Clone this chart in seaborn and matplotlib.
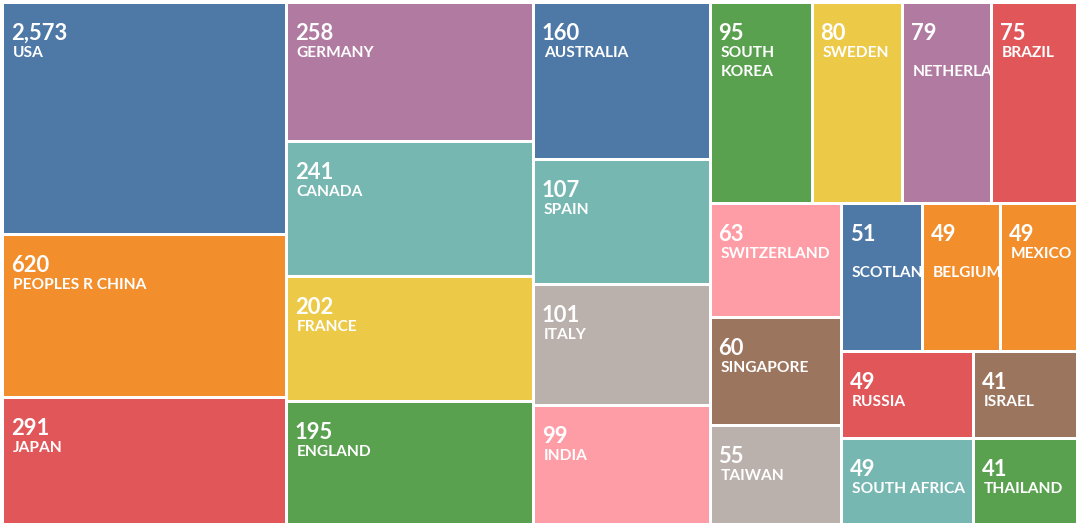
import numpy as np
import matplotlib
matplotlib.use("Agg")
import matplotlib.pyplot as plt
import seaborn as sns
from matplotlib.patches import Rectangle

# ---------------- data ----------------
countries = ["USA", "PEOPLES R CHINA", "JAPAN", "GERMANY", "CANADA", "FRANCE",
             "ENGLAND", "AUSTRALIA", "SPAIN", "ITALY", "INDIA", "SOUTH KOREA",
             "SWEDEN", "NETHERLANDS", "BRAZIL", "SWITZERLAND", "SINGAPORE",
             "TAIWAN", "SCOTLAND", "BELGIUM", "MEXICO", "RUSSIA",
             "SOUTH AFRICA", "ISRAEL", "THAILAND"]
counts = [2573, 620, 291, 258, 241, 202, 195, 160, 107, 101, 99, 95, 80, 79,
          75, 63, 60, 55, 51, 49, 49, 49, 49, 41, 41]

# how the (wrapped) names appear inside the tiles
name_text = {"SOUTH KOREA": "SOUTH\nKOREA", "NETHERLANDS": "\nNETHERLANDS",
             "SCOTLAND": "\nSCOTLAND", "BELGIUM": "\nBELGIUM"}

# ---------------- style ----------------
T_BLUE, T_ORANGE, T_RED, T_TEAL, T_GREEN = "#4e79a7", "#f28e2b", "#e15759", "#76b7b2", "#59a14f"
T_YELLOW, T_PURPLE, T_PINK, T_BROWN, T_GRAY = "#edc948", "#b07aa1", "#ff9da7", "#9c755f", "#bab0ac"
tile_colors = [T_BLUE, T_ORANGE, T_RED, T_PURPLE, T_TEAL, T_YELLOW, T_GREEN,
               T_BLUE, T_TEAL, T_GRAY, T_PINK, T_GREEN, T_YELLOW, T_PURPLE,
               T_RED, T_PINK, T_BROWN, T_GRAY, T_BLUE, T_ORANGE, T_ORANGE,
               T_RED, T_TEAL, T_BROWN, T_GREEN]
palette = sns.color_palette(tile_colors)

# squarified layout: tile area on a log scale, rows broken as in the reference
LOG_FLOOR = 3.06
row_sizes = [3, 4, 4, 4, 3, 3, 2, 1, 1]
GAP = 3.0

sns.set_theme(style="white")
plt.rcParams["font.family"] = ["Lato", "DejaVu Sans"]

W, H = 1080, 527
fig = plt.figure(figsize=(W / 100, H / 100), dpi=100)
ax = fig.add_axes([0, 0, 1, 1])
ax.set_xlim(0, W)
ax.set_ylim(H, 0)
ax.axis("off")

weights = np.log(np.asarray(counts, dtype=float)) - LOG_FLOOR
cx, cy, cw, ch = 2.5, 2.5, W - 5.0, H - 5.0
areas = weights / weights.sum() * cw * ch

cells = []
i = 0
for k, n in enumerate(row_sizes):
    row = areas[i:i + n]
    s = row.sum()
    last = k == len(row_sizes) - 1
    if cw >= ch:      # column along the left side
        w = cw if last else s / ch
        yy = cy
        for a in row:
            h = a / s * ch
            cells.append((cx, yy, w, h))
            yy += h
        cx += w
        cw -= w
    else:             # strip along the top
        h = ch if last else s / cw
        xx = cx
        for a in row:
            w = a / s * cw
            cells.append((xx, cy, w, h))
            xx += w
        cy += h
        ch -= h
    i += n

VAL_PX, NAME_PX = 22, 15.5
px2pt = 72 / 100
for (x, y, w, h), name, val, col in zip(cells, countries, counts, palette):
    rx, ry, rw, rh = x + GAP / 2, y + GAP / 2, w - GAP, h - GAP
    rect = Rectangle((rx, ry), rw, rh, facecolor=col, edgecolor="none")
    ax.add_patch(rect)
    t = ax.text(rx + 7, ry + 36, f"{val:,}", color="white", fontsize=VAL_PX * px2pt,
                fontweight="bold", va="baseline", ha="left", clip_on=True)
    t.set_clip_path(rect)
    t.set_clip_on(True)
    lines = name_text.get(name, name).split("\n")
    for j, ln in enumerate(lines):
        if not ln:
            continue
        tt = ax.text(rx + 9, ry + 53 + 18.5 * j, ln, color="white",
                     fontsize=NAME_PX * px2pt, fontweight="bold",
                     va="baseline", ha="left", clip_on=True)
        tt.set_clip_path(rect)
        tt.set_clip_on(True)

fig.savefig("out.png", dpi=100, facecolor="white")
